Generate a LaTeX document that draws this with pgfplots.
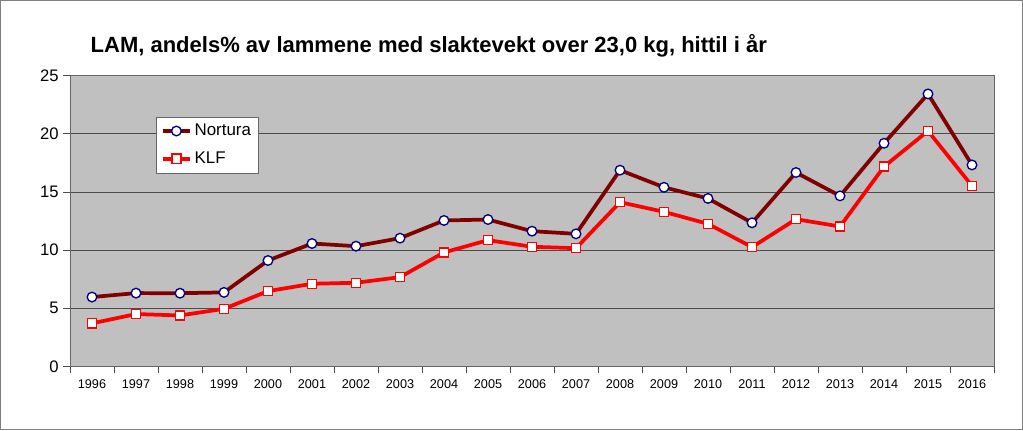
\documentclass[border=0pt]{standalone}
\usepackage{fontspec}
\setmainfont{Liberation Sans}
\usepackage{pgfplots}
\pgfplotsset{compat=1.18}

\definecolor{plotbg}{HTML}{C0C0C0}
\definecolor{nortura}{HTML}{800000}
\definecolor{navymark}{HTML}{000080}
\definecolor{klf}{HTML}{FF0000}
\definecolor{framegray}{HTML}{808080}

\begin{document}
\begin{tikzpicture}
% outer chart frame (1023 x 430 px at 0.75pt per px)
\draw[framegray, line width=0.75pt] (0.375pt,-0.375pt) rectangle (766.875pt,-322.125pt);
\node[anchor=base west, font=\fontsize{16.5}{18}\selectfont\bfseries] at (64.5pt,-39.5pt)
  {LAM, andels\% av lammene med slaktevekt over 23,0 kg, hittil i år};

\begin{axis}[
    at={(52.5pt,-274.9pt)}, anchor=south west,
    scale only axis,
    width=693pt, height=218.25pt,
    xmin=-0.5, xmax=20.5,
    ymin=0, ymax=25,
    xtick={-0.5,0.5,...,20.5},
    xticklabels={1996,1997,1998,1999,2000,2001,2002,2003,2004,2005,2006,2007,2008,2009,2010,2011,2012,2013,2014,2015,2016},
    x tick label as interval,
    ytick={0,5,...,25},
    ymajorgrids,
    grid style={black!70, line width=0.6pt},
    axis background/.style={fill=plotbg},
    axis line style={black!60, line width=0.75pt},
    tick align=outside,
    tick style={black!70, line width=0.6pt},
    major tick length=5pt,
    xtick pos=bottom, ytick pos=left,
    /pgf/number format/assume math mode=true,
    x tick label style={font=\fontsize{9.5}{11}\selectfont, /pgf/number format/1000 sep={}},
    y tick label style={font=\fontsize{12.5}{14}\selectfont},
    xticklabel style={yshift=-1pt},
    legend style={at={(0.093,0.859)}, anchor=north west, fill=white, draw=black!60,
        font=\fontsize{12.7}{14}\selectfont, row sep=6.5pt, inner sep=3.5pt,
        /tikz/every even column/.append style={column sep=1pt}},
    legend cell align=left,
    legend image code/.code={
        \draw[mark repeat=2,mark phase=2,#1] plot coordinates {(0cm,0cm) (0.36cm,0cm) (0.72cm,0cm)};
    },
]
\addplot[color=nortura, line width=2.8pt, mark=*, mark size=3.6pt,
    mark options={fill=white, draw=navymark, line width=1pt}] coordinates {
    (0,5.97) (1,6.31) (2,6.30) (3,6.37) (4,9.11) (5,10.57) (6,10.34) (7,11.03)
    (8,12.55) (9,12.63) (10,11.63) (11,11.40) (12,16.87) (13,15.40) (14,14.44)
    (15,12.35) (16,16.67) (17,14.66) (18,19.18) (19,23.42) (20,17.32)
};
\addlegendentry{Nortura}
\addplot[color=klf, line width=2.8pt, mark=square*, mark size=3.4pt,
    mark options={fill=white, draw=klf, line width=1pt}] coordinates {
    (0,3.71) (1,4.51) (2,4.39) (3,4.96) (4,6.48) (5,7.11) (6,7.20) (7,7.68)
    (8,9.80) (9,10.86) (10,10.29) (11,10.17) (12,14.12) (13,13.29) (14,12.26)
    (15,10.26) (16,12.66) (17,12.03) (18,17.18) (19,20.24) (20,15.52)
};
\addlegendentry{KLF}
\end{axis}
\end{tikzpicture}
\end{document}
